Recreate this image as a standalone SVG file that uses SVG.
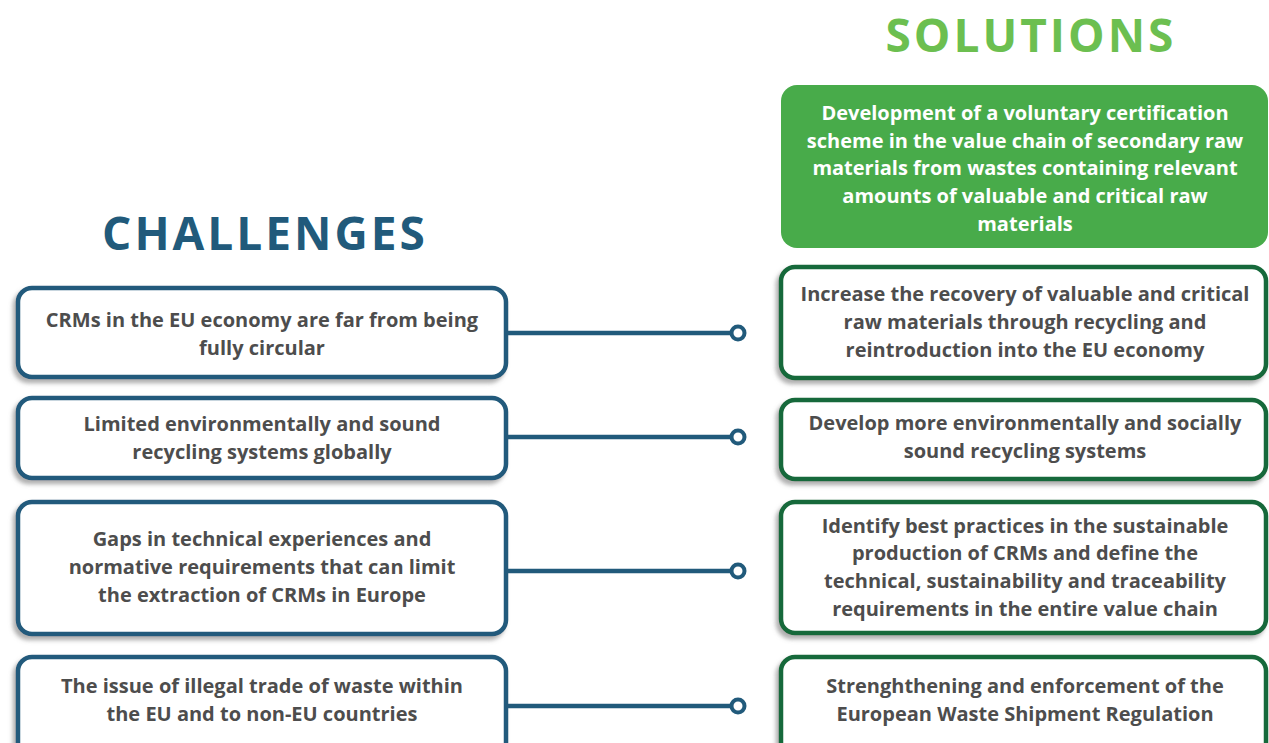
<svg xmlns="http://www.w3.org/2000/svg" width="1269" height="743" viewBox="0 0 1269 743">
  <defs>
    <filter id="shadow" x="-10%" y="-10%" width="120%" height="130%">
      <feDropShadow dx="-3" dy="4" stdDeviation="2" flood-color="#7a7a7a" flood-opacity="0.6"/>
    </filter>
    <style>
      .title { font-family: "Open Sans", "Liberation Sans", sans-serif; font-weight: 700; font-size: 46px; letter-spacing: 3px; text-anchor: middle; }
      .ch { fill: #ffffff; stroke: #215a7b; stroke-width: 4.5; filter: url(#shadow); }
      .so { fill: #ffffff; stroke: #17693a; stroke-width: 4.5; filter: url(#shadow); }
      .txt { font-family: "Open Sans", "Liberation Sans", sans-serif; font-weight: 700; font-size: 20px; fill: #4d4d4d; text-anchor: middle; }
      .wtxt { font-family: "Open Sans", "Liberation Sans", sans-serif; font-weight: 700; font-size: 20px; fill: #ffffff; text-anchor: middle; }
      .conn { stroke: #215a7b; stroke-width: 4.5; fill: none; }
      .dot { stroke: #215a7b; stroke-width: 4; fill: #ffffff; }
    </style>
  </defs>
  <rect width="1269" height="743" fill="#ffffff"/>

  <text class="title" x="265" y="250" fill="#215a7b">CHALLENGES</text>
  <text class="title" x="1031" y="52" fill="#6cbf50">SOLUTIONS</text>

  <g id="connectors">
    <line class="conn" x1="506" y1="333" x2="732" y2="333"/>
    <circle class="dot" cx="738" cy="333" r="6.5"/>
    <line class="conn" x1="506" y1="437" x2="732" y2="437"/>
    <circle class="dot" cx="738" cy="437" r="6.5"/>
    <line class="conn" x1="506" y1="571" x2="732" y2="571"/>
    <circle class="dot" cx="738" cy="571" r="6.5"/>
    <line class="conn" x1="506" y1="706" x2="732" y2="706"/>
    <circle class="dot" cx="738" cy="706" r="6.5"/>
  </g>

  <g id="solution-main">
    <rect x="781" y="85" width="487" height="163" rx="16" fill="#48ab4a"/>
    <text class="wtxt" x="1025" y="120">Development of a voluntary certification</text>
    <text class="wtxt" x="1025" y="148">scheme in the value chain of secondary raw</text>
    <text class="wtxt" x="1025" y="175">materials from wastes containing relevant</text>
    <text class="wtxt" x="1025" y="203">amounts of valuable and critical raw</text>
    <text class="wtxt" x="1025" y="231">materials</text>
  </g>

  <g id="challenge-1">
    <rect class="ch" x="18" y="288" width="488" height="89" rx="14"/>
    <text class="txt" x="262" y="327">CRMs in the EU economy are far from being</text>
    <text class="txt" x="262" y="355">fully circular</text>
  </g>
  <g id="challenge-2">
    <rect class="ch" x="18" y="398" width="488" height="80" rx="14"/>
    <text class="txt" x="262" y="431">Limited environmentally and sound</text>
    <text class="txt" x="262" y="459">recycling systems globally</text>
  </g>
  <g id="challenge-3">
    <rect class="ch" x="18" y="502" width="488" height="132" rx="14"/>
    <text class="txt" x="262" y="546">Gaps in technical experiences and</text>
    <text class="txt" x="262" y="574">normative requirements that can limit</text>
    <text class="txt" x="262" y="602">the extraction of CRMs in Europe</text>
  </g>
  <g id="challenge-4">
    <rect class="ch" x="18" y="657" width="488" height="110" rx="14"/>
    <text class="txt" x="262" y="693">The issue of illegal trade of waste within</text>
    <text class="txt" x="262" y="721">the EU and to non-EU countries</text>
  </g>

  <g id="solution-1">
    <rect class="so" x="781" y="267" width="485" height="111" rx="14"/>
    <text class="txt" x="1025" y="301">Increase the recovery of valuable and critical</text>
    <text class="txt" x="1025" y="329">raw materials through recycling and</text>
    <text class="txt" x="1025" y="357">reintroduction into the EU economy</text>
  </g>
  <g id="solution-2">
    <rect class="so" x="781" y="400" width="485" height="79" rx="14"/>
    <text class="txt" x="1025" y="430">Develop more environmentally and socially</text>
    <text class="txt" x="1025" y="458">sound recycling systems</text>
  </g>
  <g id="solution-3">
    <rect class="so" x="781" y="502" width="485" height="131" rx="14"/>
    <text class="txt" x="1025" y="533">Identify best practices in the sustainable</text>
    <text class="txt" x="1025" y="560">production of CRMs and define the</text>
    <text class="txt" x="1025" y="588">technical, sustainability and traceability</text>
    <text class="txt" x="1025" y="616">requirements in the entire value chain</text>
  </g>
  <g id="solution-4">
    <rect class="so" x="781" y="657" width="485" height="110" rx="14"/>
    <text class="txt" x="1025" y="693">Strenghthening and enforcement of the</text>
    <text class="txt" x="1025" y="721">European Waste Shipment Regulation</text>
  </g>
</svg>
